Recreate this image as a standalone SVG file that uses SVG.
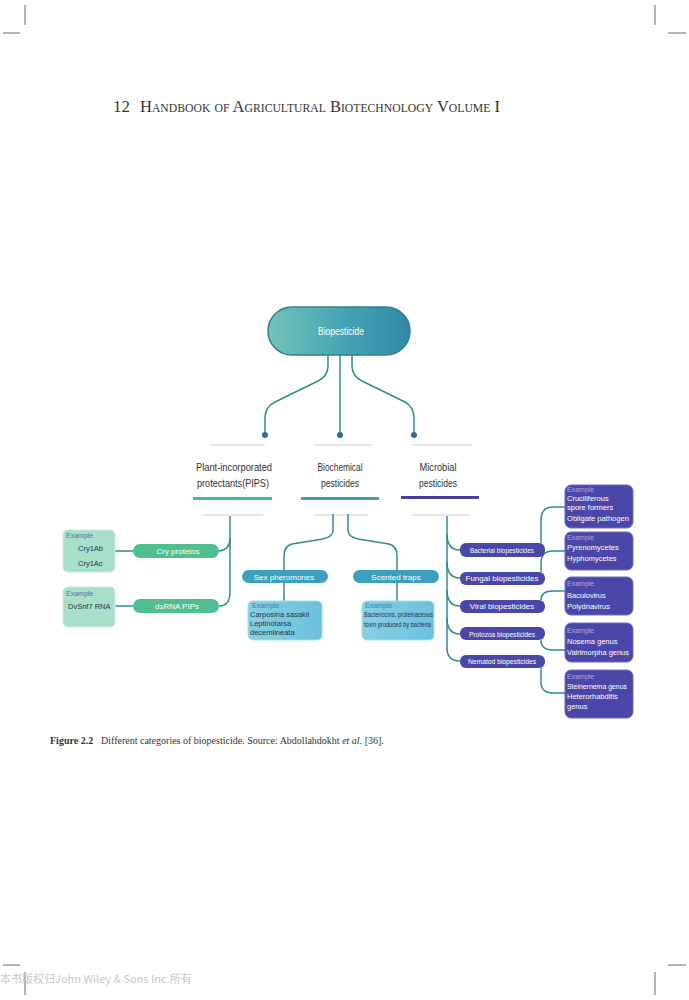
<svg xmlns="http://www.w3.org/2000/svg" width="689" height="1000" viewBox="0 0 689 1000">
<defs>
<linearGradient id="gTop" x1="0" y1="0" x2="1" y2="0">
<stop offset="0" stop-color="#72c2b8"/><stop offset="0.5" stop-color="#49a6b4"/><stop offset="1" stop-color="#2f88a6"/>
</linearGradient>
<linearGradient id="gBlue" x1="0" y1="0" x2="1" y2="0">
<stop offset="0" stop-color="#86d0e4"/><stop offset="1" stop-color="#6cc0dc"/>
</linearGradient>
<style>
.crop{stroke:#666;stroke-width:1;fill:none}
.hdr{font-family:"Liberation Serif",serif;fill:#333}
.sans{font-family:"Liberation Sans",sans-serif}
.cat{font-family:"Liberation Sans",sans-serif;font-size:11px;fill:#333;text-anchor:middle}
.faint{stroke:#e8e8e8;stroke-width:2;fill:none}
.conn{stroke:#2e8f8a;stroke-width:1.5;fill:none}
.dot{fill:#2b6c9e}
.gpill{fill:#4fbf8f}
.bpill{fill:#3aa0bd}
.ppill{fill:#4a47a8}
.ptxt{font-family:"Liberation Sans",sans-serif;font-size:8px;fill:#fff;text-anchor:middle}
.gbox{fill:#a8dfcb;stroke:#c6ebdd;stroke-width:1}
.bbox{fill:url(#gBlue);stroke:#a6dcea;stroke-width:1}
.pbox{fill:#4a47a8;stroke:#6f6cc4;stroke-width:1}
.ex{font-family:"Liberation Sans",sans-serif;font-size:7px;fill:#3d80b0}
.exp{font-family:"Liberation Sans",sans-serif;font-size:7px;fill:#a9a8e6}
.it{font-family:"Liberation Sans",sans-serif;font-size:7.5px;fill:#1f3550}
.itw{font-family:"Liberation Sans",sans-serif;font-size:7.5px;fill:#fff}
</style>
</defs>
<rect width="689" height="1000" fill="#fff"/>
<g id="cropmarks">
<path class="crop" d="M25,5V25M3,33H20M655,5V25M668,33H686M3,965H20M668,965H686M25,972V995M655,972V995"/>
</g>
<g id="header">
<text class="hdr" x="113" y="112" font-size="17">12</text>
<text class="hdr" x="140" y="112" font-size="17" style="font-variant:small-caps" textLength="360" lengthAdjust="spacingAndGlyphs">Handbook of Agricultural Biotechnology Volume I</text>
</g>
<g id="faint-lines">
<path class="faint" d="M210,445H265M314,445H372M412,445H472M203,515H263M314,515H368M412,515H470"/>
</g>
<g id="connectors">
<path class="conn" d="M328,355V366Q328,376 318,381L275,402Q265,407 265,418V434"/>
<path class="conn" d="M340,355V434"/>
<path class="conn" d="M352,355V366Q352,376 362,381L405,402Q414,407 414,418V434"/>
<path class="conn" d="M230,516V592Q230,606 219,606"/>
<path class="conn" d="M219,551Q230,550 230,538"/>
<path class="conn" d="M115,551H133M115,606H133"/>
<path class="conn" d="M333,514V530Q333,537 323,539L292,544Q284,546 284,556V570"/>
<path class="conn" d="M348,514V530Q348,537 358,539L389,544Q397,546 397,556V570"/>
<path class="conn" d="M284,583V601M397,583V601"/>
<path class="conn" d="M447,516V648Q447,661 460,661"/>
<path class="conn" d="M447,534Q447,550 460,550M447,562Q447,578 460,578M447,590Q447,606 460,606M447,618Q447,634 460,634"/>
<path class="conn" d="M541,543V520Q541,507 553,507H565"/>
<path class="conn" d="M541,572V563Q541,551 553,551H565"/>
<path class="conn" d="M541,600Q541,591 553,591H565"/>
<path class="conn" d="M541,640Q541,650 553,650H565"/>
<path class="conn" d="M541,668V682Q541,693 553,693H565"/>
<circle class="dot" cx="265" cy="435" r="3"/>
<circle class="dot" cx="340" cy="435" r="3"/>
<circle class="dot" cx="414" cy="435" r="3"/>
</g>
<g id="biopesticide">
<rect x="268" y="307" width="142" height="48" rx="24" fill="url(#gTop)" stroke="#2e7f8f" stroke-width="1.5"/>
<text class="sans" x="341" y="335" font-size="11" fill="#fff" text-anchor="middle" textLength="46" lengthAdjust="spacingAndGlyphs">Biopesticide</text>
</g>
<g id="cat-pips">
<text class="cat" x="234" y="471" textLength="76" lengthAdjust="spacingAndGlyphs">Plant-incorporated</text>
<text class="cat" x="233" y="487" textLength="72" lengthAdjust="spacingAndGlyphs">protectants(PIPS)</text>
<rect x="193" y="497" width="79" height="3" fill="#3dbb9a"/>
</g>
<g id="cat-biochem">
<text class="cat" x="340" y="471" textLength="45" lengthAdjust="spacingAndGlyphs">Biochemical</text>
<text class="cat" x="340" y="487" textLength="38" lengthAdjust="spacingAndGlyphs">pesticides</text>
<rect x="301" y="497" width="78" height="3" fill="#3a9fbb"/>
</g>
<g id="cat-microbial">
<text class="cat" x="438" y="471" textLength="37" lengthAdjust="spacingAndGlyphs">Microbial</text>
<text class="cat" x="438" y="487" textLength="38" lengthAdjust="spacingAndGlyphs">pesticides</text>
<rect x="401" y="496" width="78" height="3" fill="#4a3f9a"/>
</g>
<g id="cry-proteins">
<rect class="gpill" x="133" y="544" width="86" height="14" rx="7"/>
<text class="ptxt" x="178" y="554" font-size="9">Cry proteins</text>
</g>
<g id="dsrna">
<rect class="gpill" x="133" y="599" width="86" height="14" rx="7"/>
<text class="ptxt" x="177" y="609" font-size="9">dsRNA PIPs</text>
</g>
<g id="ex-cry">
<rect class="gbox" x="63" y="530" width="52" height="42" rx="5"/>
<text class="ex" x="66" y="538">Example</text>
<text class="it" x="78" y="551">Cry1Ab</text>
<text class="it" x="78" y="566">Cry1Ac</text>
</g>
<g id="ex-dsrna">
<rect class="gbox" x="63" y="587" width="52" height="40" rx="5"/>
<text class="ex" x="66" y="596">Example</text>
<text class="it" x="68" y="609">DvSnf7 RNA</text>
</g>
<g id="sex-pheromones">
<rect class="bpill" x="242" y="570" width="86" height="13" rx="6.5"/>
<text class="ptxt" x="284" y="580" font-size="8.5">Sex pheromones</text>
</g>
<g id="scented-traps">
<rect class="bpill" x="353" y="570" width="86" height="13" rx="6.5"/>
<text class="ptxt" x="396" y="580" font-size="8.5">Scented traps</text>
</g>
<g id="ex-sex">
<rect class="bbox" x="248" y="601" width="74" height="39" rx="5"/>
<text class="ex" x="252" y="608">Example</text>
<text class="it" x="250" y="617">Carposina sasakii</text>
<text class="it" x="250" y="626">Leptinotarsa</text>
<text class="it" x="250" y="635">decemlineata</text>
</g>
<g id="ex-scented">
<rect class="bbox" x="362" y="601" width="72" height="39" rx="5"/>
<text class="ex" x="365" y="608">Example</text>
<text class="it" x="364" y="617" font-size="6.8" textLength="69" lengthAdjust="spacingAndGlyphs">Bacteriocins, proteinaceous</text>
<text class="it" x="364" y="627" font-size="6.8" textLength="67" lengthAdjust="spacingAndGlyphs">toxin produced by bacteria</text>
</g>
<g id="bacterial">
<rect class="ppill" x="460" y="543" width="85" height="14" rx="6"/>
<text class="ptxt" x="502" y="553" textLength="64" lengthAdjust="spacingAndGlyphs">Bacterial biopesticides</text>
</g>
<g id="fungal">
<rect class="ppill" x="460" y="572" width="85" height="13" rx="6"/>
<text class="ptxt" x="502" y="581">Fungal biopesticides</text>
</g>
<g id="viral">
<rect class="ppill" x="460" y="600" width="85" height="13" rx="6"/>
<text class="ptxt" x="502" y="609">Viral biopesticides</text>
</g>
<g id="protozoa">
<rect class="ppill" x="460" y="627" width="85" height="13" rx="6"/>
<text class="ptxt" x="502" y="637" textLength="66" lengthAdjust="spacingAndGlyphs">Protozoa biopesticides</text>
</g>
<g id="nematod">
<rect class="ppill" x="460" y="655" width="85" height="13" rx="6"/>
<text class="ptxt" x="502" y="664" textLength="68" lengthAdjust="spacingAndGlyphs">Nematod biopesticides</text>
</g>
<g id="ex-bacterial">
<rect class="pbox" x="565" y="485" width="68" height="43" rx="6"/>
<text class="exp" x="567" y="492">Example</text>
<text class="itw" x="567" y="501">Cruciliferous</text>
<text class="itw" x="567" y="510">spore formers</text>
<text class="itw" x="567" y="521" textLength="62" lengthAdjust="spacingAndGlyphs">Obligate pathogen</text>
</g>
<g id="ex-fungal">
<rect class="pbox" x="565" y="532" width="68" height="38" rx="6"/>
<text class="exp" x="567" y="540">Example</text>
<text class="itw" x="567" y="550">Pyrenomycetes</text>
<text class="itw" x="567" y="561">Hyphomycetes</text>
</g>
<g id="ex-viral">
<rect class="pbox" x="565" y="577" width="68" height="38" rx="6"/>
<text class="exp" x="567" y="586">Example</text>
<text class="itw" x="567" y="598">Baculovirus</text>
<text class="itw" x="567" y="609">Polydnavirus</text>
</g>
<g id="ex-protozoa">
<rect class="pbox" x="565" y="623" width="68" height="39" rx="6"/>
<text class="exp" x="567" y="633">Example</text>
<text class="itw" x="567" y="644">Nosema genus</text>
<text class="itw" x="567" y="655" textLength="62" lengthAdjust="spacingAndGlyphs">Vairimorpha genus</text>
</g>
<g id="ex-nematod">
<rect class="pbox" x="565" y="670" width="68" height="48" rx="6"/>
<text class="exp" x="567" y="679">Example</text>
<text class="itw" x="567" y="689" textLength="60" lengthAdjust="spacingAndGlyphs">Steinernema genus</text>
<text class="itw" x="567" y="699">Heterorhabditis</text>
<text class="itw" x="567" y="709">genus</text>
</g>
<g id="caption">
<text class="hdr" x="50" y="744" font-size="10" font-weight="bold">Figure 2.2</text>
<text class="hdr" x="101" y="744" font-size="10">Different categories of biopesticide. Source: Abdollahdokht <tspan font-style="italic">et al.</tspan> [36].</text>
</g>
<g id="watermark">
<text x="0" y="983" font-family="'Noto Sans CJK SC','Liberation Serif',serif" font-size="11" fill="#c8c8c8">本书版权归John Wiley &amp; Sons Inc.所有</text>
</g>
</svg>
